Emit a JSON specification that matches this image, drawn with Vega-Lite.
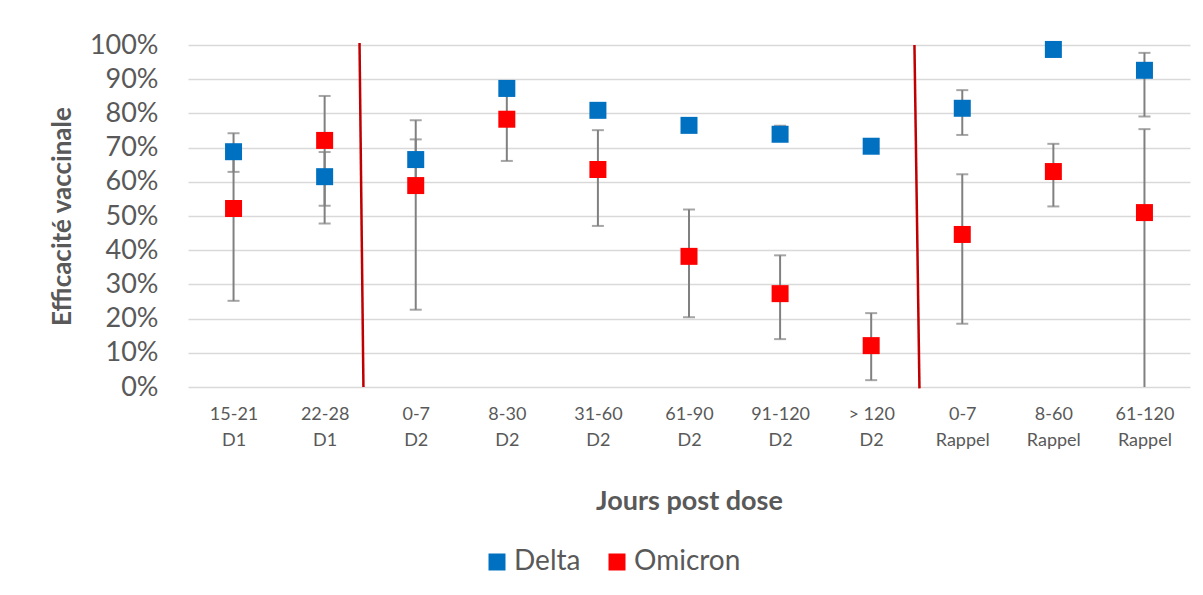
{
  "$schema": "https://vega.github.io/schema/vega-lite/v6.json",
  "width": 1002,
  "height": 342,
  "autosize": {"type": "none"},
  "padding": {"left": 188, "top": 45, "right": 13, "bottom": 208},
  "background": "white",
  "config": {
    "font": "Lato",
    "view": {"stroke": null},
    "axisY": {
      "format": ".0%",
      "labelOverlap": false,
      "labelFontSize": 27,
      "labelColor": "#595959",
      "labelPadding": 30,
      "domain": false,
      "ticks": false,
      "gridColor": "#D9D9D9",
      "gridWidth": 1.5,
      "titleFontSize": 26,
      "titleFontWeight": "bold",
      "titleColor": "#595959",
      "titlePadding": 14
    }
  },
  "datasets": {
    "ve": [
      {"cat": "15-21\nD1", "variant": "Delta", "ve": 0.688, "lo": 0.629, "hi": 0.742},
      {"cat": "15-21\nD1", "variant": "Omicron", "ve": 0.522, "lo": 0.252, "hi": 0.68},
      {"cat": "22-28\nD1", "variant": "Delta", "ve": 0.615, "lo": 0.530, "hi": 0.687},
      {"cat": "22-28\nD1", "variant": "Omicron", "ve": 0.721, "lo": 0.478, "hi": 0.851},
      {"cat": "0-7\nD2", "variant": "Delta", "ve": 0.665, "lo": 0.60, "hi": 0.724},
      {"cat": "0-7\nD2", "variant": "Omicron", "ve": 0.589, "lo": 0.226, "hi": 0.780},
      {"cat": "8-30\nD2", "variant": "Delta", "ve": 0.873, "lo": 0.855, "hi": 0.89},
      {"cat": "8-30\nD2", "variant": "Omicron", "ve": 0.783, "lo": 0.661, "hi": 0.86},
      {"cat": "31-60\nD2", "variant": "Delta", "ve": 0.809, "lo": 0.795, "hi": 0.825},
      {"cat": "31-60\nD2", "variant": "Omicron", "ve": 0.636, "lo": 0.471, "hi": 0.751},
      {"cat": "61-90\nD2", "variant": "Delta", "ve": 0.765, "lo": 0.75, "hi": 0.78},
      {"cat": "61-90\nD2", "variant": "Omicron", "ve": 0.382, "lo": 0.204, "hi": 0.519},
      {"cat": "91-120\nD2", "variant": "Delta", "ve": 0.739, "lo": 0.72, "hi": 0.764},
      {"cat": "91-120\nD2", "variant": "Omicron", "ve": 0.273, "lo": 0.140, "hi": 0.385},
      {"cat": "> 120\nD2", "variant": "Delta", "ve": 0.704, "lo": 0.69, "hi": 0.72},
      {"cat": "> 120\nD2", "variant": "Omicron", "ve": 0.121, "lo": 0.020, "hi": 0.216},
      {"cat": "0-7\nRappel", "variant": "Delta", "ve": 0.815, "lo": 0.737, "hi": 0.868},
      {"cat": "0-7\nRappel", "variant": "Omicron", "ve": 0.446, "lo": 0.185, "hi": 0.622},
      {"cat": "8-60\nRappel", "variant": "Delta", "ve": 0.987, "lo": 0.975, "hi": 0.995},
      {"cat": "8-60\nRappel", "variant": "Omicron", "ve": 0.630, "lo": 0.528, "hi": 0.711},
      {"cat": "61-120\nRappel", "variant": "Delta", "ve": 0.926, "lo": 0.791, "hi": 0.977},
      {"cat": "61-120\nRappel", "variant": "Omicron", "ve": 0.510, "lo": -0.3, "hi": 0.754}
    ],
    "sep": [
      {"pos": 1.883, "pos2": 1.926, "top": 1.006, "bottom": 0},
      {"pos": 7.975, "pos2": 8.03, "top": 1.0, "bottom": -0.004}
    ]
  },
  "layer": [
    {
      "data": {"name": "ve"},
      "encoding": {
        "x": {
          "field": "cat",
          "type": "nominal",
          "sort": ["15-21\nD1", "22-28\nD1", "0-7\nD2", "8-30\nD2", "31-60\nD2", "61-90\nD2", "91-120\nD2", "> 120\nD2", "0-7\nRappel", "8-60\nRappel", "61-120\nRappel"],
          "scale": {"type": "point", "padding": 0.5},
          "title": "Jours post dose",
          "axis": {
            "labelExpr": "split(datum.label, '\\n')",
            "labelAngle": 0,
            "labelFontSize": 18,
            "labelColor": "#595959",
            "labelLineHeight": 26,
            "labelPadding": 18,
            "labelBaseline": "top",
            "domain": false,
            "ticks": false,
            "grid": false,
            "titleFontSize": 27,
            "titleFontWeight": "bold",
            "titleColor": "#595959",
            "titlePadding": 39
          }
        }
      },
      "layer": [
        {
          "mark": {"type": "rule", "color": "#808080", "strokeWidth": 2, "clip": true},
          "encoding": {
            "y": {
              "field": "lo",
              "type": "quantitative",
              "title": "Efficacité vaccinale",
              "scale": {"domain": [0, 1]},
              "axis": {"values": [0, 0.1, 0.2, 0.3, 0.4, 0.5, 0.6, 0.7, 0.8, 0.9, 1]}
            },
            "y2": {"field": "hi"}
          }
        },
        {
          "mark": {"type": "tick", "orient": "horizontal", "size": 12, "thickness": 2, "color": "#808080", "clip": true},
          "encoding": {"y": {"field": "lo", "type": "quantitative", "title": "Efficacité vaccinale", "axis": {"values": [0, 0.1, 0.2, 0.3, 0.4, 0.5, 0.6, 0.7, 0.8, 0.9, 1]}}}
        },
        {
          "mark": {"type": "tick", "orient": "horizontal", "size": 12, "thickness": 2, "color": "#808080", "clip": true},
          "encoding": {"y": {"field": "hi", "type": "quantitative", "title": "Efficacité vaccinale", "axis": {"values": [0, 0.1, 0.2, 0.3, 0.4, 0.5, 0.6, 0.7, 0.8, 0.9, 1]}}}
        },
        {
          "mark": {"type": "point", "shape": "square", "filled": true, "size": 289, "opacity": 1, "strokeWidth": 0},
          "encoding": {
            "y": {"field": "ve", "type": "quantitative", "title": "Efficacité vaccinale", "axis": {"values": [0, 0.1, 0.2, 0.3, 0.4, 0.5, 0.6, 0.7, 0.8, 0.9, 1]}},
            "color": {
              "field": "variant",
              "type": "nominal",
              "scale": {"domain": ["Delta", "Omicron"], "range": ["#0070C0", "#FF0000"]},
              "legend": {
                "title": null,
                "orient": "none",
                "legendX": 295,
                "legendY": 503,
                "direction": "horizontal",
                "labelFontSize": 28,
                "labelColor": "#595959",
                "symbolType": "square",
                "symbolSize": 289,
                "symbolStrokeWidth": 0,
                "labelOffset": 3,
                "columnPadding": 22
              }
            }
          }
        }
      ]
    },
    {
      "data": {"name": "sep"},
      "mark": {"type": "rule", "color": "#C00000", "strokeWidth": 2.5},
      "encoding": {
        "x": {"field": "pos", "type": "quantitative", "scale": {"domain": [0, 11]}, "axis": null},
        "x2": {"field": "pos2"},
        "y": {"field": "top", "type": "quantitative", "title": "Efficacité vaccinale", "scale": {"domain": [0, 1]}, "axis": {"values": [0, 0.1, 0.2, 0.3, 0.4, 0.5, 0.6, 0.7, 0.8, 0.9, 1]}},
        "y2": {"field": "bottom"}
      }
    }
  ],
  "resolve": {"scale": {"x": "independent"}}
}
